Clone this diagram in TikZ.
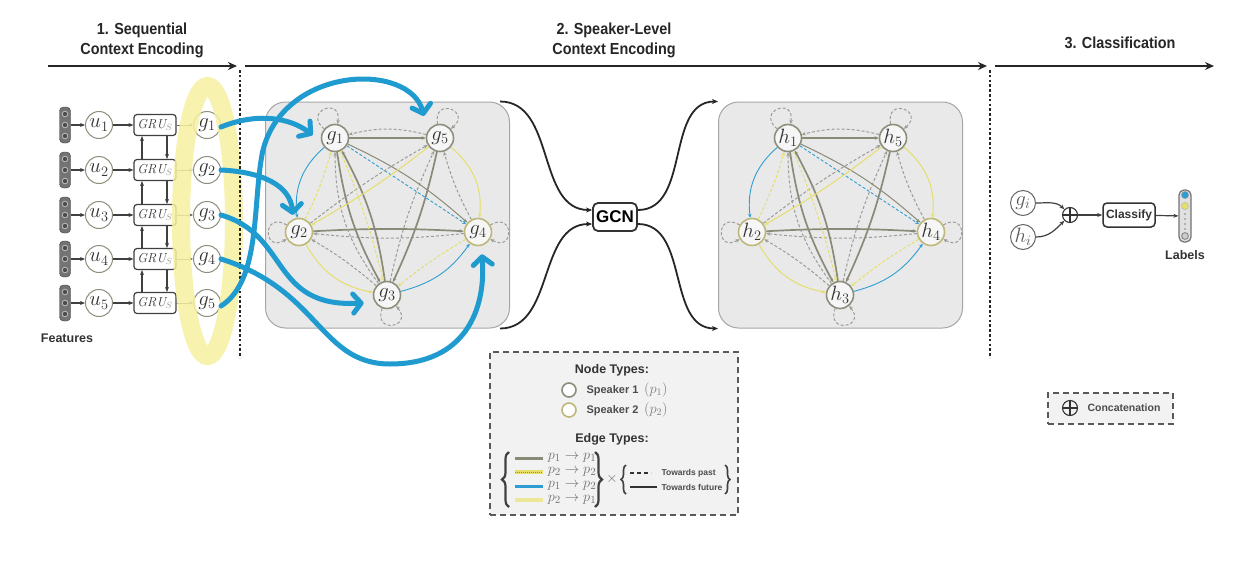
\documentclass[tikz,border=0pt]{standalone}
\usepackage{fontspec}
\setsansfont{Liberation Sans}
\newfontfamily\hdr[FakeStretch=0.9]{Liberation Sans}
\usetikzlibrary{arrows.meta,calc,decorations.pathreplacing}
\definecolor{bgray}{HTML}{E9E9E9}
\definecolor{ngray}{HTML}{8E8E7C}
\definecolor{nyel}{HTML}{BDB77A}
\definecolor{egray}{HTML}{8A8A78}
\definecolor{dgray}{HTML}{9C9C96}
\definecolor{eyel}{HTML}{E6DE6A}
\definecolor{eblue}{HTML}{2E9ED2}
\definecolor{ablue}{HTML}{1F9BD0}
\definecolor{hyel}{HTML}{F6F0A0}
\definecolor{txt}{HTML}{333333}
\tikzset{
 hdrtxt/.style={font=\hdr\bfseries\fontsize{16}{20}\selectfont, align=center, text=black!85},
 hdrarrow/.style={line width=2.8pt, draw=black!85, -{Stealth[length=9pt,width=8pt]}},
 sepline/.style={line width=2.6pt, draw=black!85, dash pattern=on 2.6pt off 2.2pt},
 featvec/.style={draw=black!75, fill=black!55, rounded corners=4pt, minimum width=11pt, minimum height=36pt, inner sep=0pt},
 unode/.style={circle, draw=ngray, line width=1pt, fill=white, minimum size=27pt, inner sep=0pt, font=\fontsize{20}{20}\selectfont, text=txt},
 grubox/.style={draw=black!75, line width=1.2pt, rounded corners=3pt, fill=white, minimum width=42pt, minimum height=21pt, inner sep=0pt, font=\fontsize{13}{13}\selectfont, text=txt},
 larr/.style={line width=1.2pt, draw=black!75, -{Stealth[length=5pt,width=4pt]}},
 sarr/.style={line width=0.8pt, draw=black!60, -{Stealth[length=4pt,width=3.5pt]}},
 barrow/.style={draw=ablue, line width=5pt, line cap=round, -{Straight Barb[length=8pt,width=19pt,round]}},
 gbox/.style={draw=black!35, line width=1pt, fill=bgray, rounded corners=20pt, minimum width=244pt, minimum height=226pt, inner sep=0pt},
 s1node/.style={circle, draw=ngray, line width=1.6pt, fill=bgray!40!white, minimum size=27pt, inner sep=0pt, font=\fontsize{21}{21}\selectfont, text=txt},
 s2node/.style={s1node, draw=nyel},
 tip/.style={-{Stealth[length=4pt,width=3.5pt]}},
 gT/.style={draw=egray, line width=1.7pt, tip},
 gS/.style={draw=egray, line width=1pt, tip},
 gD/.style={draw=dgray, line width=1pt, dash pattern=on 3pt off 2pt, tip},
 yS/.style={draw=eyel, line width=1pt, tip},
 yD/.style={draw=eyel, line width=1pt, dash pattern=on 3pt off 2pt, tip},
 bS/.style={draw=eblue, line width=0.9pt, tip},
 bD/.style={draw=eblue, line width=0.9pt, dash pattern=on 3pt off 2pt, tip},
 curv/.style={draw=black!85, line width=1.8pt, -{Stealth[length=6pt,width=5pt]}},
 gcnbox/.style={draw=black!80, line width=1.8pt, rounded corners=5pt, fill=white, minimum width=44pt, minimum height=28pt, inner sep=0pt, font=\sffamily\bfseries\fontsize{17}{17}\selectfont},
 clsbox/.style={draw=black!80, line width=1.5pt, rounded corners=4pt, fill=white, minimum width=52pt, minimum height=24pt, inner sep=0pt, font=\sffamily\bfseries\fontsize{12}{12}\selectfont, text=black!80},
 cnode/.style={circle, draw=black!60, line width=1pt, fill=white, minimum size=25pt, inner sep=0pt, font=\fontsize{22}{22}\selectfont, text=black!65},
 oplusnode/.style={circle, draw=black!80, line width=1.1pt, minimum size=15pt, inner sep=0pt, path picture={\draw[black!80, line width=1.1pt] (path picture bounding box.north) -- (path picture bounding box.south) (path picture bounding box.west) -- (path picture bounding box.east);}},
 bold/.style={font=\sffamily\bfseries\fontsize{12.5}{14}\selectfont, text=black!80},
 dashbox/.style={draw=black!65, line width=2pt, dash pattern=on 6pt off 4pt, fill=black!5, inner sep=0pt},
 legtxt/.style={font=\sffamily\bfseries\fontsize{11}{12}\selectfont, text=black!70},
 ptxt/.style={font=\fontsize{15}{15}\selectfont, text=black!55},
 smalltxt/.style={font=\sffamily\bfseries\fontsize{8.5}{10}\selectfont, text=black!70},
 bracedeco/.style={decorate, decoration={brace, amplitude=7pt}, line width=2.2pt, draw=black!75},
 sbracedeco/.style={decorate, decoration={brace, amplitude=5pt}, line width=1.6pt, draw=black!75},
}
\newcommand\drawgraph[3]{%
\begin{scope}[xshift=#3pt]
\node[gbox] (#1box) at (387.5,215) {};
\node[s1node] (#11) at (335,138) {$#2_1$};
\node[s1node] (#15) at (440,138) {$#2_5$};
\node[s2node] (#12) at (299,232) {$#2_2$};
\node[s2node] (#14) at (478,232) {$#2_4$};
\node[s1node] (#13) at (387,295) {$#2_3$};
\draw[gT] (#11) -- (#15);
\draw[gD] (#15) to[bend right=14] (#11);
\draw[gT] (#12) to[bend left=3] (#14);
\draw[gD] (#14) to[bend left=6] (#12);
\draw[gT] (#11) to[bend right=10] (#13);
\draw[gT] (#13) to[bend right=10] (#11);
\draw[gD] (#13) to[bend left=18] (#11);
\draw[gT] (#15) to[bend left=6] (#13);
\draw[gD] (#13) to[bend left=6] (#15);
\draw[gS] (#11) to[bend left=8] (#14);
\draw[bD] (#11) -- (#14);
\draw[bS] (#11) to[bend right=28] (#12);
\draw[yD] (#12) to[bend right=5] (#11);
\draw[yS] (#15) to[bend left=4] (#12);
\draw[gD] (#12) to[bend left=4] (#15);
\draw[yD] (#11) to[bend left=4] (#13);
\draw[yS] (#15) to[bend left=28] (#14);
\draw[gD] (#14) to[bend left=6] (#15);
\draw[yS] (#12) to[bend right=25] (#13);
\draw[gD] (#13) to[bend right=5] (#12);
\draw[bS] (#13) to[bend right=20] (#14);
\draw[yD] (#14) to[bend right=4] (#13);
\draw[gD] (#11.140) to[out=140,in=80,looseness=5] (#11.80);
\draw[gD] (#15.100) to[out=100,in=40,looseness=5] (#15.40);
\draw[gD] (#12.150) to[out=150,in=210,looseness=5] (#12.210);
\draw[gD] (#14.30) to[out=30,in=-30,looseness=5] (#14.-30);
\draw[gD] (#13.-110) to[out=-110,in=-50,looseness=5] (#13.-50);
\end{scope}}
\begin{document}
\begin{tikzpicture}[x=1pt,y=-1pt]
\useasboundingbox (0,0) rectangle (1239,570);
\fill[white] (0,0) rectangle (1239,570);
% headers
\node[hdrtxt] (T1) at (142,40) {1. Sequential\\Context Encoding};
\node[hdrtxt] (T2) at (614,40) {2. Speaker-Level\\Context Encoding};
\node[hdrtxt] (T3) at (1120,43) {3. Classification};
\coordinate (H1s) at (48,66); \coordinate (H1e) at (237,66);
\coordinate (H2s) at (245,66); \coordinate (H2e) at (987,66);
\coordinate (H3s) at (995,66); \coordinate (H3e) at (1214,66);
\draw[hdrarrow] (H1s) -- (H1e);
\draw[hdrarrow] (H2s) -- (H2e);
\draw[hdrarrow] (H3s) -- (H3e);
% left column
\foreach \i/\y in {1/125,2/170,3/215,4/259,5/303}{
  \node[featvec] (F\i) at (65,\y) {};
  \foreach \o in {-11,0,11}{\draw[fill=black!70, draw=black!25, line width=0.8pt] (65,\y+\o) circle (2.8pt);}
  \node[unode] (U\i) at (99,\y) {$u_{\i}$};
  \node[grubox] (R\i) at (155,\y) {$\mathit{GRU}_{\color{black!40}S}$};
  \node[unode] (L\i) at (207,\y) {$g_{\i}$};
  \draw[larr] (F\i) -- (U\i);
  \draw[larr] (U\i) -- (R\i);
  \draw[sarr] (R\i) -- (L\i);
}
\foreach \i/\j in {1/2,2/3,3/4,4/5}{
  \draw[larr] ([xshift=-13pt]R\j.north) -- ([xshift=-13pt]R\i.south);
  \draw[larr] ([xshift=12pt]R\i.south) -- ([xshift=12pt]R\j.north);
}
\node[bold] (FeatT) at (67,338) {Features};
% graphs
\drawgraph{A}{g}{0}
\drawgraph{B}{h}{453}
% yellow highlight ring
\draw[hyel, line width=18pt, opacity=0.85] (207.5,221) ellipse [x radius=26.5pt, y radius=135pt];
% separators
\coordinate (V1a) at (240,70); \coordinate (V1b) at (240,358);
\coordinate (V2a) at (990,70); \coordinate (V2b) at (990,358);
\draw[sepline] (V1a) -- (V1b);
\draw[sepline] (V2a) -- (V2b);
% GCN
\node[gcnbox] (GCN) at (615,217) {GCN};
\draw[curv] ([xshift=-10pt]Abox.north east) to[out=0,in=180] ([yshift=7pt]GCN.west);
\draw[curv] ([xshift=-10pt]Abox.south east) to[out=0,in=180] ([yshift=-7pt]GCN.west);
\draw[curv] ([yshift=7pt]GCN.east) to[out=0,in=180] (Bbox.north west);
\draw[curv] ([yshift=-7pt]GCN.east) to[out=0,in=180] (Bbox.south west);
% blue annotation arrows
\draw[barrow] ([yshift=-2pt]L1.east) .. controls (258,112) and (290,118) .. ([xshift=-8pt,yshift=3pt]A1.west);
\draw[barrow] (L2.east) .. controls (262,172) and (290,185) .. ([xshift=4pt,yshift=7pt]A2.north west);
\draw[barrow] (L3.east) .. controls (290,235) and (270,308) .. ([xshift=-9pt,yshift=-8pt]A3.west);
\draw[barrow] (L4.east) .. controls (320,290) and (320,364) .. (390,364) .. controls (465,364) and (486,310) .. ([xshift=4pt,yshift=-8pt]A4.south);
\draw[barrow] ([yshift=-3pt]L5.east) .. controls (262,280) and (252,200) .. (263,150) .. controls (285,65) and (410,62) .. ([xshift=-6pt,yshift=12pt]A5.north west);
% classification
\node[cnode] (Gi) at (1023,203) {$g_i$};
\node[cnode] (Hi) at (1023,237) {$h_i$};
\node[oplusnode] (Cat) at (1070,215) {};
\node[clsbox] (Cls) at (1129,215) {Classify};
\node[draw=black!55, line width=1.2pt, fill=black!12, rounded corners=5pt, minimum width=12pt, minimum height=52pt, inner sep=0pt] (Lab) at (1185,216) {};
\fill[eblue, draw=black!40] (1185,195) circle (3.6pt);
\fill[eyel, draw=black!30] (1185,206) circle (3.6pt);
\foreach \d in {214,219,224,229}{\fill[black!50] (1185,\d) circle (0.8pt);}
\draw[black!50, fill=black!20, line width=0.8pt] (1185,236) circle (3.4pt);
\node[bold] (LabT) at (1185,255) {Labels};
\draw[larr] (Gi.east) to[out=0,in=135] (Cat.135);
\draw[larr] (Hi.east) to[out=0,in=-135] (Cat.-135);
\draw[larr] (Cat) -- (Cls);
\draw[larr] (Cls) -- (Lab);
% concatenation legend
\node[dashbox, minimum width=125pt, minimum height=31pt] (CatBox) at (1110.5,408) {};
\node[oplusnode] (CatSym) at (1070,408) {};
\node[font=\sffamily\bfseries\fontsize{10.5}{12}\selectfont, text=black!70] (CatT) at (1124,408) {Concatenation};
% main legend
\node[dashbox, minimum width=248pt, minimum height=163pt] (Leg) at (614,433.5) {};
\node[bold] (NT) at (612,370) {Node Types:};
\node[circle, draw=ngray, line width=1.6pt, fill=white, minimum size=14pt, inner sep=0pt] (S1) at (569,390) {};
\node[circle, draw=nyel, line width=1.6pt, fill=white, minimum size=14pt, inner sep=0pt] (S2) at (569,410) {};
\node[legtxt, anchor=west] (S1T) at (583,390) {Speaker 1\enspace{\fontsize{14}{14}\selectfont\textcolor{black!50}{$(p_1)$}}};
\node[legtxt, anchor=west] (S2T) at (583,410) {Speaker 2\enspace{\fontsize{14}{14}\selectfont\textcolor{black!50}{$(p_2)$}}};
\node[bold] (ET) at (612,439) {Edge Types:};
\draw[bracedeco] (509,507) -- (509,452);
\draw[bracedeco] (595,452) -- (595,507);
\draw[egray, line width=3pt] (515,458) -- (543,458);
\draw[eyel, line width=3.5pt] (515,472) -- (543,472);
\draw[egray, line width=0.8pt, dash pattern=on 1pt off 1pt] (515,472) -- (543,472);
\draw[eblue, line width=3pt] (515,486) -- (543,486);
\draw[eyel!70, line width=3.5pt] (515,500) -- (543,500);
\node[ptxt] (E1) at (572,458) {$p_1 \rightarrow p_1$};
\node[ptxt] (E2) at (572,472) {$p_2 \rightarrow p_2$};
\node[ptxt] (E3) at (572,486) {$p_1 \rightarrow p_2$};
\node[ptxt] (E4) at (572,500) {$p_2 \rightarrow p_1$};
\node[ptxt, font=\fontsize{15}{15}\selectfont] (X) at (612,479) {$\times$};
\draw[sbracedeco] (626,494) -- (626,465);
\draw[sbracedeco] (725,465) -- (725,494);
\draw[black!80, line width=2.5pt, dash pattern=on 4pt off 3pt] (630,473) -- (651,473);
\draw[black!80, line width=2.5pt] (630,487) -- (657,487);
\node[smalltxt, anchor=west] (TP) at (658,473) {Towards past};
\node[smalltxt, anchor=west] (TF) at (658,487) {Towards future};
\end{tikzpicture}
\end{document}
